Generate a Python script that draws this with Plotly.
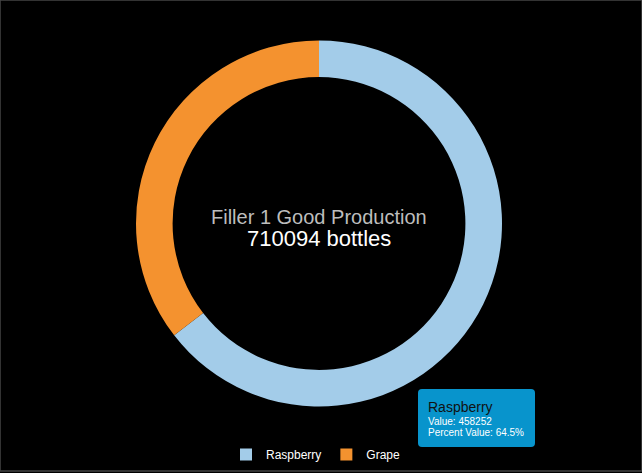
import plotly.graph_objects as go

W, H = 642, 473

# data
labels = ["Raspberry", "Grape"]
values = [458252, 251842]
colors = ["#a3cce9", "#f4922f"]
chart_title = "Filler 1 Good Production"
unit = "bottles"

total = sum(values)

# pixel -> paper helpers
def px(x):
    return x / W

def py(y):
    return 1 - y / H

# donut ring
cx, cy, r = 319, 223.5, 183
pie = go.Pie(
    labels=labels,
    values=values,
    marker=dict(colors=colors, line=dict(width=0)),
    hole=0.80,
    sort=False,
    direction="clockwise",
    rotation=0,
    textinfo="none",
    hoverinfo="none",
    domain=dict(x=[px(cx - r), px(cx + r)], y=[py(cy + r), py(cy - r)]),
)

fig = go.Figure(data=[pie])

# rounded tooltip box for the first slice
x0, y0, x1, y1, rad = 418, 389, 535, 447, 4
path = (
    f"M {px(x0 + rad)} {py(y0)} L {px(x1 - rad)} {py(y0)} "
    f"Q {px(x1)} {py(y0)} {px(x1)} {py(y0 + rad)} "
    f"L {px(x1)} {py(y1 - rad)} Q {px(x1)} {py(y1)} {px(x1 - rad)} {py(y1)} "
    f"L {px(x0 + rad)} {py(y1)} Q {px(x0)} {py(y1)} {px(x0)} {py(y1 - rad)} "
    f"L {px(x0)} {py(y0 + rad)} Q {px(x0)} {py(y0)} {px(x0 + rad)} {py(y0)} Z"
)

shapes = [
    dict(type="path", xref="paper", yref="paper", path=path,
         fillcolor="#0894cc", line=dict(width=0)),
    # thin frame round the page
    dict(type="rect", xref="paper", yref="paper", x0=0, y0=0.004, x1=1, y1=1,
         line=dict(color="#444444", width=1.5), fillcolor="rgba(0,0,0,0)"),
]

pct = values[0] / total * 100
annotations = [
    dict(x=px(cx), y=py(217), xref="paper", yref="paper", text=chart_title,
         showarrow=False, yanchor="middle",
         font=dict(family="Arial", size=20, color="#bdbdbd")),
    dict(x=px(cx), y=py(238), xref="paper", yref="paper", text=f"{total} {unit}",
         showarrow=False, yanchor="middle",
         font=dict(family="Arial", size=22, color="#ffffff")),
    dict(x=px(426), y=py(407), xref="paper", yref="paper", text=labels[0],
         xanchor="left", yanchor="middle", showarrow=False,
         font=dict(family="Arial", size=14, color="#111111")),
    dict(x=px(426), y=py(421), xref="paper", yref="paper",
         text=f"Value: {values[0]}", xanchor="left", yanchor="middle",
         showarrow=False, font=dict(family="Arial", size=10, color="#ffffff")),
    dict(x=px(426), y=py(432), xref="paper", yref="paper",
         text=f"Percent Value: {pct:.1f}%", xanchor="left", yanchor="middle",
         showarrow=False, font=dict(family="Arial", size=10, color="#ffffff")),
]

fig.update_layout(
    width=W,
    height=H,
    margin=dict(l=0, r=0, t=0, b=0),
    paper_bgcolor="#000000",
    plot_bgcolor="#000000",
    shapes=shapes,
    annotations=annotations,
    showlegend=True,
    legend=dict(
        orientation="h",
        x=px(316), xanchor="center",
        y=py(440), yanchor="top",
        font=dict(family="Arial", size=12, color="#ffffff"),
        bgcolor="rgba(0,0,0,0)",
        itemwidth=30,
    ),
)

fig.write_html(
    "out.html",
    config={"displayModeBar": False},
    post_script="document.body.style.margin='0';document.body.style.overflow='hidden';",
)
